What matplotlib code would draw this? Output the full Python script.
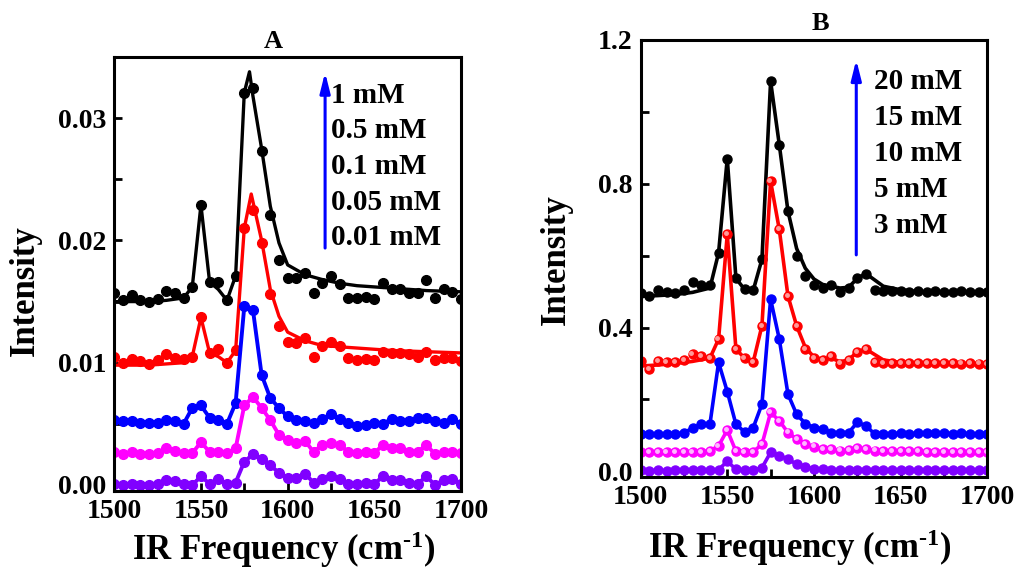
import numpy as np
import matplotlib
matplotlib.use('Agg')
from matplotlib import pyplot as plt
from matplotlib import transforms

plt.rcParams['font.family'] = ['Liberation Serif', 'DejaVu Serif']
plt.rcParams['font.weight'] = 'bold'
plt.rcParams['mathtext.fontset'] = 'custom'
plt.rcParams['mathtext.rm'] = 'Liberation Serif:bold'
plt.rcParams['mathtext.bf'] = 'Liberation Serif:bold'
plt.rcParams['mathtext.default'] = 'bf'

# wavenumbers (cm-1), same grid for every spectrum
freq = [1500, 1505, 1510, 1515, 1520, 1525, 1530, 1535, 1540, 1545,
        1550, 1555, 1560, 1565, 1570, 1575, 1580, 1585, 1590, 1595,
        1600, 1605, 1610, 1615, 1620, 1625, 1630, 1635, 1640, 1645,
        1650, 1655, 1660, 1665, 1670, 1675, 1680, 1685, 1690, 1695, 1700]

# ---- panel A : 1 / 0.5 / 0.1 / 0.05 / 0.01 mM
a_1mM = [0.0157, 0.0151, 0.0155, 0.0151, 0.0150, 0.0152, 0.0159, 0.0157, 0.0153, 0.0162,
         0.0229, 0.0166, 0.0166, 0.0151, 0.0171, 0.0321, 0.0325, 0.0273, 0.0221, 0.0184,
         0.0169, 0.0169, 0.0173, 0.0157, 0.0165, 0.0171, 0.0164, 0.0153, 0.0153, 0.0154,
         0.0152, 0.0165, 0.0160, 0.0160, 0.0157, 0.0157, 0.0168, 0.0153, 0.0160, 0.0158, 0.0152]
a_05mM = [0.0105, 0.0100, 0.0103, 0.0101, 0.0099, 0.0102, 0.0107, 0.0104, 0.0103, 0.0105,
          0.0137, 0.0108, 0.0111, 0.0100, 0.0110, 0.0210, 0.0225, 0.0198, 0.0156, 0.0130,
          0.0117, 0.0116, 0.0120, 0.0105, 0.0114, 0.0117, 0.0114, 0.0104, 0.0102, 0.0103,
          0.0102, 0.0109, 0.0108, 0.0108, 0.0107, 0.0105, 0.0109, 0.0102, 0.0104, 0.0104, 0.0101]
a_01mM = [0.0053, 0.0052, 0.0052, 0.0051, 0.0051, 0.0051, 0.0053, 0.0052, 0.0050, 0.0063,
          0.0065, 0.0055, 0.0053, 0.0050, 0.0067, 0.0146, 0.0143, 0.0090, 0.0071, 0.0063,
          0.0056, 0.0053, 0.0052, 0.0051, 0.0054, 0.0058, 0.0054, 0.0051, 0.0048, 0.0049,
          0.0051, 0.0050, 0.0054, 0.0052, 0.0052, 0.0055, 0.0055, 0.0052, 0.0051, 0.0054, 0.0050]
a_005mM = [0.0027, 0.0025, 0.0027, 0.0025, 0.0025, 0.0026, 0.0030, 0.0028, 0.0026, 0.0026,
           0.0035, 0.0027, 0.0027, 0.0026, 0.0030, 0.0065, 0.0072, 0.0063, 0.0053, 0.0041,
           0.0037, 0.0034, 0.0036, 0.0027, 0.0033, 0.0034, 0.0033, 0.0027, 0.0026, 0.0027,
           0.0026, 0.0033, 0.0030, 0.0030, 0.0027, 0.0027, 0.0033, 0.0025, 0.0027, 0.0027, 0.0026]
a_001mM = [0.0001, 0.0000, 0.0001, 0.0000, 0.0000, 0.0001, 0.0004, 0.0003, 0.0001, 0.0000,
           0.0007, 0.0001, 0.0005, 0.0001, 0.0002, 0.0019, 0.0025, 0.0021, 0.0016, 0.0010,
           0.0006, 0.0006, 0.0009, 0.0002, 0.0005, 0.0007, 0.0005, 0.0001, 0.0001, 0.0002,
           0.0001, 0.0007, 0.0004, 0.0004, 0.0002, 0.0001, 0.0007, 0.0000, 0.0004, 0.0005, 0.0001]

# fitted curves drawn for the two top spectra of A
a_fit1_x = [1500, 1510, 1520, 1530, 1540, 1545, 1550, 1555, 1560, 1565, 1570, 1575, 1578,
            1580, 1585, 1590, 1595, 1600, 1610, 1620, 1630, 1640, 1650, 1660, 1680, 1700]
a_fit1_y = [0.0150, 0.0150, 0.0150, 0.0151, 0.0153, 0.0162, 0.0229, 0.0166, 0.0160, 0.0151,
            0.0171, 0.0321, 0.0338, 0.0318, 0.0275, 0.0228, 0.0198, 0.0180, 0.0172, 0.0168,
            0.0165, 0.0163, 0.0162, 0.0161, 0.0159, 0.0158]
a_fit05_x = [1500, 1520, 1540, 1545, 1550, 1555, 1560, 1565, 1570, 1575, 1579,
             1585, 1590, 1595, 1600, 1610, 1620, 1640, 1660, 1680, 1700]
a_fit05_y = [0.0098, 0.0098, 0.0100, 0.0105, 0.0137, 0.0108, 0.0105, 0.0100, 0.0110, 0.0210, 0.0238,
             0.0200, 0.0160, 0.0138, 0.0125, 0.0118, 0.0114, 0.0112, 0.0110, 0.0109, 0.0108]

# ---- panel B : 20 / 15 / 10 / 5 / 3 mM
b_20mM = [0.497, 0.488, 0.504, 0.500, 0.497, 0.504, 0.528, 0.519, 0.519, 0.608,
          0.870, 0.537, 0.506, 0.504, 0.590, 1.085, 0.909, 0.724, 0.599, 0.544,
          0.519, 0.509, 0.519, 0.500, 0.509, 0.537, 0.550, 0.504, 0.502, 0.501,
          0.501, 0.500, 0.501, 0.500, 0.501, 0.500, 0.500, 0.501, 0.500, 0.500, 0.499]
b_15mM = [0.307, 0.284, 0.307, 0.305, 0.305, 0.309, 0.326, 0.321, 0.315, 0.368,
          0.659, 0.340, 0.315, 0.305, 0.405, 0.807, 0.673, 0.488, 0.405, 0.340,
          0.315, 0.309, 0.321, 0.300, 0.309, 0.333, 0.340, 0.303, 0.302, 0.301,
          0.302, 0.301, 0.302, 0.301, 0.301, 0.302, 0.301, 0.300, 0.301, 0.300, 0.299]
b_10mM = [0.104, 0.104, 0.104, 0.104, 0.103, 0.108, 0.120, 0.131, 0.131, 0.303,
          0.222, 0.131, 0.110, 0.122, 0.187, 0.479, 0.368, 0.215, 0.159, 0.133,
          0.122, 0.118, 0.108, 0.108, 0.108, 0.136, 0.127, 0.104, 0.105, 0.105,
          0.106, 0.105, 0.106, 0.107, 0.108, 0.106, 0.105, 0.106, 0.105, 0.104, 0.104]
b_5mM = [0.053, 0.053, 0.053, 0.053, 0.053, 0.054, 0.055, 0.055, 0.057, 0.071,
         0.115, 0.056, 0.055, 0.055, 0.075, 0.164, 0.141, 0.108, 0.090, 0.076,
         0.069, 0.062, 0.062, 0.058, 0.059, 0.065, 0.062, 0.058, 0.057, 0.056,
         0.056, 0.056, 0.056, 0.055, 0.055, 0.055, 0.055, 0.055, 0.055, 0.054, 0.054]
b_3mM = [0.003, 0.002, 0.003, 0.002, 0.003, 0.003, 0.004, 0.004, 0.004, 0.005,
         0.028, 0.006, 0.004, 0.004, 0.010, 0.053, 0.044, 0.034, 0.020, 0.012,
         0.008, 0.006, 0.005, 0.004, 0.004, 0.005, 0.005, 0.004, 0.004, 0.004,
         0.004, 0.004, 0.004, 0.004, 0.004, 0.004, 0.004, 0.004, 0.004, 0.004, 0.004]

b_fit20_x = [1500, 1510, 1520, 1530, 1540, 1545, 1550, 1555, 1560, 1565, 1570, 1575, 1580, 1585,
             1590, 1595, 1600, 1605, 1610, 1615, 1620, 1625, 1630, 1640, 1650, 1660, 1680, 1700]
b_fit20_y = [0.487, 0.489, 0.492, 0.498, 0.510, 0.608, 0.870, 0.537, 0.506, 0.504, 0.590, 1.085, 0.909, 0.724,
             0.620, 0.565, 0.535, 0.520, 0.515, 0.510, 0.512, 0.537, 0.550, 0.515, 0.505, 0.500, 0.498, 0.497]
b_fit15_x = b_fit20_x
b_fit15_y = [0.293, 0.296, 0.300, 0.306, 0.315, 0.368, 0.659, 0.340, 0.315, 0.305, 0.405, 0.807, 0.673, 0.488,
             0.405, 0.345, 0.318, 0.312, 0.315, 0.305, 0.310, 0.333, 0.340, 0.310, 0.303, 0.300, 0.298, 0.297]

labels_A = ['1 mM', '0.5 mM', '0.1 mM', '0.05 mM', '0.01 mM']
labels_B = ['20 mM', '15 mM', '10 mM', '5 mM', '3 mM']

colors = ['black', '#FF0000', '#0000FF', '#FF00FF', '#8000FF']
s = 20
xlab = 'IR Frequency (cm$^{\\text{-1}}$)'

fig = plt.figure(figsize=(10.2, 5.71), dpi=100)
axA = fig.add_axes([0.112, 0.140, 0.340, 0.760])
axB = fig.add_axes([0.628, 0.165, 0.340, 0.765])


def style(ax):
    for sp in ax.spines.values():
        sp.set_linewidth(2.2)
    ax.tick_params(which='both', direction='in', width=2, length=6, labelsize=s, pad=6,
                   top=False, right=False)
    ax.set_xlim(1500, 1700)
    ax.set_xticks([1500, 1550, 1600, 1650, 1700])
    ax.set_xticks([1525, 1575, 1625, 1675], minor=True)


arrow = dict(arrowstyle='-|>,head_width=0.25,head_length=1.0', color='#0000FF', lw=2.2,
             mutation_scale=12, shrinkA=0, shrinkB=0)

# ---- A
msA = 7
axA.plot(a_fit1_x, a_fit1_y, '-', color=colors[0], lw=2.4)
axA.plot(freq, a_1mM, 'o', color=colors[0], ms=msA)
axA.plot(a_fit05_x, a_fit05_y, '-', color=colors[1], lw=2.4)
axA.plot(freq, a_05mM, 'o', color=colors[1], ms=msA)
axA.plot(freq, a_01mM, 'o-', color=colors[2], ms=msA, lw=2.8)
axA.plot(freq, a_005mM, 'o-', color=colors[3], ms=msA, lw=2.8)
axA.plot(freq, a_001mM, 'o-', color=colors[4], ms=msA, lw=2.8)
style(axA)
axA.set_ylim(-0.0005, 0.035)
axA.set_yticks([0.0, 0.01, 0.02, 0.03])
axA.set_yticks([0.005, 0.015, 0.025], minor=True)
axA.set_yticklabels(['0.00', '0.01', '0.02', '0.03'])
axA.text(0.458, 1.035, 'A', transform=axA.transAxes, ha='center', va='center', size=19)
axA.annotate('', xy=(0.608, 0.965), xytext=(0.608, 0.56), xycoords='axes fraction',
             arrowprops=arrow)
for i, lab in enumerate(labels_A):
    axA.text(0.625, 0.912 - i * 0.082, lab, transform=axA.transAxes, ha='left', va='center', size=21)
axA.text(-0.256, 0.463, 'Intensity', transform=axA.transAxes, rotation=90,
         ha='center', va='center', size=25)
axA.text(0.49, -0.136, xlab, transform=axA.transAxes, ha='center', va='center', size=25)

# ---- B
msB = 6.5
hl = transforms.offset_copy(axB.transData, fig=fig, x=-0.8, y=0.8, units='points')
axB.plot(b_fit20_x, b_fit20_y, '-', color=colors[0], lw=2.6)
axB.plot(freq, b_20mM, 'o', color=colors[0], ms=msB)
axB.plot(b_fit15_x, b_fit15_y, '-', color=colors[1], lw=2.6)
axB.plot(freq, b_15mM, 'o', color=colors[1], ms=msB)
axB.plot(freq, b_15mM, 'o', color='#FF9A9A', ms=2.5, transform=hl)
axB.plot(freq, b_10mM, 'o-', color=colors[2], ms=msB, lw=2.6)
axB.plot(freq, b_5mM, 'o-', color=colors[3], ms=msB, lw=2.6)
axB.plot(freq, b_5mM, 'o', color='#FFB8FF', ms=2.5, transform=hl)
axB.plot(freq, b_3mM, 'o-', color=colors[4], ms=msB, lw=2.6)
style(axB)
axB.set_ylim(-0.015, 1.2)
axB.set_yticks([0.0, 0.4, 0.8, 1.2])
axB.set_yticks([0.2, 0.6, 1.0], minor=True)
axB.set_yticklabels(['0.0', '0.4', '0.8', '1.2'])
axB.text(0.52, 1.037, 'B', transform=axB.transAxes, ha='center', va='center', size=19)
axB.annotate('', xy=(0.622, 0.955), xytext=(0.622, 0.508), xycoords='axes fraction',
             arrowprops=arrow)
for i, lab in enumerate(labels_B):
    axB.text(0.672, 0.904 - i * 0.082, lab, transform=axB.transAxes, ha='left', va='center', size=21)
axB.text(-0.242, 0.497, 'Intensity', transform=axB.transAxes, rotation=90,
         ha='center', va='center', size=25)
axB.text(0.458, -0.162, xlab, transform=axB.transAxes, ha='center', va='center', size=25)

plt.savefig('out.png', dpi=100)
